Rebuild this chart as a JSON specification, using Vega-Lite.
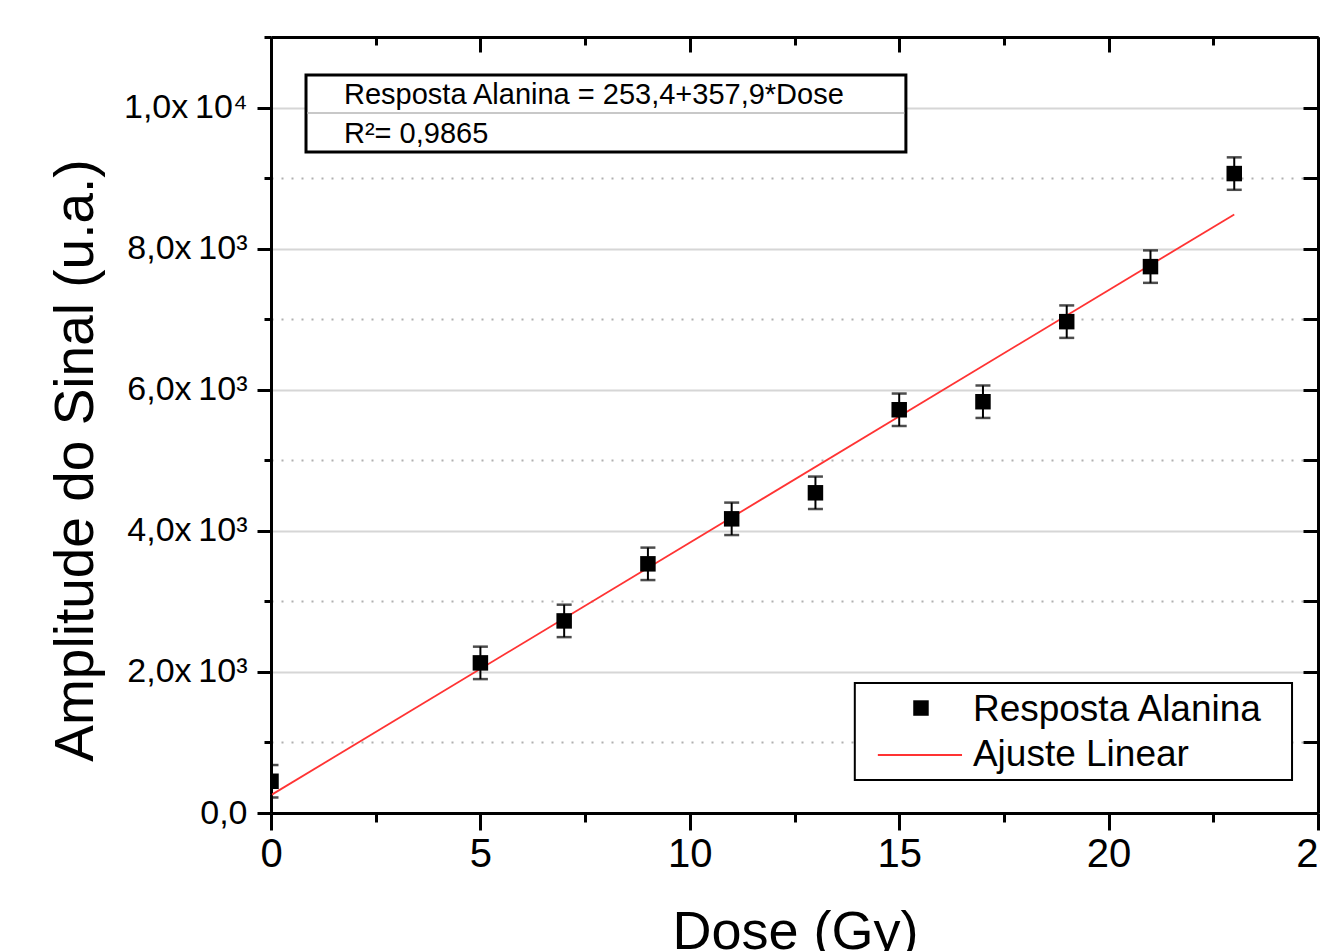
{
  "$schema": "https://vega.github.io/schema/vega-lite/v6.json",
  "width": 1047,
  "height": 776,
  "autosize": {"type": "none"},
  "padding": {"left": 271, "top": 37, "right": 2, "bottom": 138},
  "background": "white",
  "config": {
    "view": {"stroke": null},
    "font": "Liberation Sans",
    "axis": {
      "domainColor": "black", "domainWidth": 3, "tickColor": "black", "tickWidth": 3,
      "labelColor": "black", "titleColor": "black", "labelFont": "Liberation Sans",
      "titleFont": "Liberation Sans", "titleFontWeight": "normal", "labelOverlap": false, "labelFlush": false
    }
  },
  "datasets": {
    "pts": [
      {"dose": 0, "amp": 450, "lo": 220, "hi": 680},
      {"dose": 5, "amp": 2128, "lo": 1898, "hi": 2358},
      {"dose": 7, "amp": 2723, "lo": 2493, "hi": 2953},
      {"dose": 9, "amp": 3532, "lo": 3302, "hi": 3762},
      {"dose": 11, "amp": 4170, "lo": 3940, "hi": 4400},
      {"dose": 13, "amp": 4539, "lo": 4309, "hi": 4769},
      {"dose": 15, "amp": 5716, "lo": 5486, "hi": 5946},
      {"dose": 17, "amp": 5830, "lo": 5600, "hi": 6060},
      {"dose": 19, "amp": 6965, "lo": 6735, "hi": 7195},
      {"dose": 21, "amp": 7745, "lo": 7515, "hi": 7975},
      {"dose": 23, "amp": 9064, "lo": 8834, "hi": 9294}
    ],
    "fit": [
      {"dose": 0, "amp": 253.4},
      {"dose": 23, "amp": 8485.1}
    ],
    "one": [{"k": 1}]
  },
  "layer": [
    {
      "data": {"name": "fit"},
      "mark": {"type": "line", "color": "#ff3333", "strokeWidth": 1.8},
      "encoding": {
        "x": {"field": "dose", "type": "quantitative", "scale": {"domain": [0, 25], "nice": false, "zero": false},
          "axis": {"orient": "bottom", "values": [0, 5, 10, 15, 20, 25], "tickSize": 17, "labelFontSize": 40, "labelPadding": 4,
            "title": "Dose (Gy)", "titleFontSize": 54, "titleX": 524, "titleY": 135, "titleBaseline": "alphabetic", "titleAlign": "center", "grid": false}},
        "y": {"field": "amp", "type": "quantitative", "scale": {"domain": [0, 11000], "nice": false, "zero": false},
          "axis": {"orient": "left", "values": [0, 2000, 4000, 6000, 8000, 10000], "tickSize": 14, "labelFontSize": 34, "labelPadding": 10,
            "labelExpr": "datum.value == 0 ? '0,0' : datum.value == 10000 ? '1,0x\u200910⁴' : replace(format(datum.value/1000, '.1f'), '.', ',') + 'x\u200910³'",
            "title": "Amplitude do Sinal (u.a.)", "titleFontSize": 55, "titleX": -196, "titleY": 423, "titleBaseline": "middle", "titleAlign": "center",
            "grid": true, "gridColor": "#d6d6d6", "gridWidth": 2}}
      }
    },
    {
      "data": {"name": "pts"},
      "mark": {"type": "rule", "color": "black", "strokeWidth": 2, "clip": true},
      "encoding": {
        "x": {"field": "dose", "type": "quantitative",
          "axis": {"orient": "bottom", "values": [2.5, 7.5, 12.5, 17.5, 22.5], "tickSize": 9, "labels": false, "domain": false, "title": null, "grid": false}},
        "y": {"field": "lo", "type": "quantitative",
          "axis": {"orient": "left", "values": [1000, 3000, 5000, 7000, 9000, 11000], "tickSize": 7, "labels": false, "domain": false, "title": null,
            "grid": true, "gridDash": [2, 8], "gridColor": "#b0b0b0", "gridWidth": 2}},
        "y2": {"field": "hi"}
      }
    },
    {
      "data": {"name": "pts"},
      "mark": {"type": "tick", "orient": "horizontal", "color": "black", "size": 15, "thickness": 2.5, "clip": true},
      "encoding": {
        "x": {"field": "dose", "type": "quantitative",
          "axis": {"orient": "top", "values": [0, 5, 10, 15, 20, 25], "tickSize": -15, "labels": false, "domain": true, "title": null, "grid": false}},
        "y": {"field": "lo", "type": "quantitative",
          "axis": {"orient": "right", "values": [0, 2000, 4000, 6000, 8000, 10000], "tickSize": -15, "labels": false, "domain": true, "title": null, "grid": false}}
      }
    },
    {
      "data": {"name": "pts"},
      "mark": {"type": "tick", "orient": "horizontal", "color": "black", "size": 15, "thickness": 2.5, "clip": true},
      "encoding": {
        "x": {"field": "dose", "type": "quantitative",
          "axis": {"orient": "top", "values": [2.5, 7.5, 12.5, 17.5, 22.5], "tickSize": -8, "labels": false, "domain": false, "title": null, "grid": false}},
        "y": {"field": "hi", "type": "quantitative",
          "axis": {"orient": "right", "values": [1000, 3000, 5000, 7000, 9000, 11000], "tickSize": -15, "labels": false, "domain": false, "title": null, "grid": false}}
      }
    },
    {
      "data": {"name": "pts"},
      "mark": {"type": "point", "shape": "square", "filled": true, "color": "black", "size": 240, "opacity": 1, "clip": true},
      "encoding": {
        "x": {"field": "dose", "type": "quantitative", "axis": null},
        "y": {"field": "amp", "type": "quantitative", "axis": null}
      }
    },
    {
      "data": {"name": "one"},
      "mark": {"type": "rect", "fill": "white", "stroke": "black", "strokeWidth": 3},
      "encoding": {
        "x": {"datum": 0.836, "type": "quantitative", "axis": null},
        "x2": {"datum": 15.16},
        "y": {"datum": 10460, "type": "quantitative", "axis": null},
        "y2": {"datum": 9369}
      }
    },
    {
      "data": {"name": "one"},
      "mark": {"type": "rule", "color": "#c8c8c8", "strokeWidth": 2},
      "encoding": {
        "x": {"datum": 0.87, "type": "quantitative", "axis": null},
        "x2": {"datum": 15.12},
        "y": {"datum": 9922, "type": "quantitative", "axis": null}
      }
    },
    {
      "data": {"name": "one"},
      "mark": {"type": "text", "text": "Resposta Alanina = 253,4+357,9*Dose", "align": "left", "baseline": "alphabetic", "fontSize": 29, "font": "Liberation Sans", "color": "black"},
      "encoding": {
        "x": {"datum": 1.743, "type": "quantitative", "axis": null},
        "y": {"datum": 10050, "type": "quantitative", "axis": null}
      }
    },
    {
      "data": {"name": "one"},
      "mark": {"type": "text", "text": "R²= 0,9865", "align": "left", "baseline": "alphabetic", "fontSize": 29, "font": "Liberation Sans", "color": "black"},
      "encoding": {
        "x": {"datum": 1.743, "type": "quantitative", "axis": null},
        "y": {"datum": 9497, "type": "quantitative", "axis": null}
      }
    },
    {
      "data": {"name": "one"},
      "mark": {"type": "rect", "fill": "white", "stroke": "black", "strokeWidth": 2},
      "encoding": {
        "x": {"datum": 13.94, "type": "quantitative", "axis": null},
        "x2": {"datum": 24.38},
        "y": {"datum": 1843, "type": "quantitative", "axis": null},
        "y2": {"datum": 468}
      }
    },
    {
      "data": {"name": "one"},
      "mark": {"type": "point", "shape": "square", "filled": true, "color": "black", "size": 240, "opacity": 1},
      "encoding": {
        "x": {"datum": 15.52, "type": "quantitative", "axis": null},
        "y": {"datum": 1488, "type": "quantitative", "axis": null}
      }
    },
    {
      "data": {"name": "one"},
      "mark": {"type": "rule", "color": "#ff3333", "strokeWidth": 2},
      "encoding": {
        "x": {"datum": 14.49, "type": "quantitative", "axis": null},
        "x2": {"datum": 16.5},
        "y": {"datum": 822, "type": "quantitative", "axis": null}
      }
    },
    {
      "data": {"name": "one"},
      "mark": {"type": "text", "text": "Resposta Alanina", "align": "left", "baseline": "alphabetic", "fontSize": 37, "font": "Liberation Sans", "color": "black"},
      "encoding": {
        "x": {"datum": 16.76, "type": "quantitative", "axis": null},
        "y": {"datum": 1304, "type": "quantitative", "axis": null}
      }
    },
    {
      "data": {"name": "one"},
      "mark": {"type": "text", "text": "Ajuste Linear", "align": "left", "baseline": "alphabetic", "fontSize": 37, "font": "Liberation Sans", "color": "black"},
      "encoding": {
        "x": {"datum": 16.76, "type": "quantitative", "axis": null},
        "y": {"datum": 666, "type": "quantitative", "axis": null}
      }
    }
  ],
  "resolve": {"axis": {"x": "independent", "y": "independent"}}
}
